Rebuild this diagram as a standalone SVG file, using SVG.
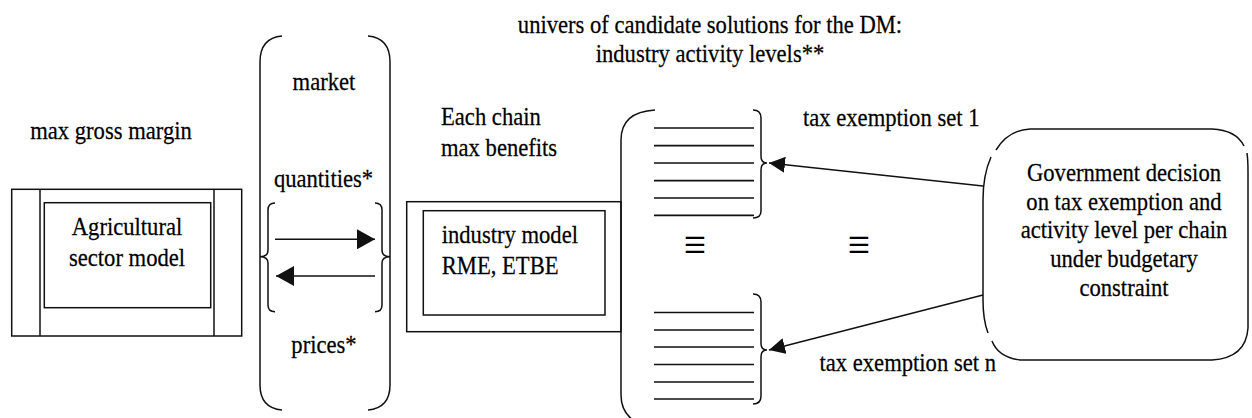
<svg xmlns="http://www.w3.org/2000/svg" width="1252" height="418" viewBox="0 0 1252 418">
  <style>
    text { font-family: "Liberation Serif", "Times New Roman", serif; font-size: 26px; fill: #000; stroke: #000; stroke-width: 0.25; }
    .mid { text-anchor: middle; }
    .ln { fill: none; stroke: #111; stroke-width: 1.5; }
    .bar { fill: none; stroke: #111; stroke-width: 1.7; }
    .eq { font-size: 36px; text-anchor: middle; stroke: none; }
  </style>
  <defs>
    <marker id="headL" markerUnits="userSpaceOnUse" markerWidth="18" markerHeight="20" refX="18" refY="10" orient="auto">
      <path d="M0,0 L18,10 L0,20 Z" fill="#111"/>
    </marker>
    <marker id="headS" markerUnits="userSpaceOnUse" markerWidth="16" markerHeight="16" refX="16" refY="8" orient="auto">
      <path d="M0,0 L16,8 L0,16 Z" fill="#111"/>
    </marker>
  </defs>
  <rect width="1252" height="418" fill="#fff"/>

  <!-- title above the candidate set -->
  <g id="title">
    <text class="mid" transform="matrix(.87 0 0 1 710 32.5)">univers of candidate solutions for the DM:</text>
    <text class="mid" transform="matrix(.87 0 0 1 710 61.5)">industry activity levels**</text>
  </g>

  <!-- agricultural sector model -->
  <g id="agri">
    <text class="mid" transform="matrix(.87 0 0 1 111 139)">max gross margin</text>
    <rect class="ln" x="11.7" y="189.3" width="230" height="146.7"/>
    <line class="ln" x1="40" y1="189.3" x2="40" y2="336"/>
    <line class="ln" x1="214" y1="189.3" x2="214" y2="336"/>
    <rect class="ln" x="44.3" y="202.7" width="166.4" height="105"/>
    <text class="mid" transform="matrix(.87 0 0 1 127 235)">Agricultural</text>
    <text class="mid" transform="matrix(.87 0 0 1 127 266)">sector model</text>
  </g>

  <!-- market exchange bracket -->
  <g id="market">
    <path class="ln" d="M282,36 Q260,38 260,62 V385 Q260,408 282,410"/>
    <path class="ln" d="M368,36 Q390,38 390,62 V385 Q390,408 368,410"/>
    <path class="ln" d="M275,203 Q268,203 268,210 V250 Q268,256.7 260,256.7 Q268,256.7 268,263 V305 Q268,311.7 275,311.7"/>
    <path class="ln" d="M375,203 Q382,203 382,210 V250 Q382,256.7 390,256.7 Q382,256.7 382,263 V305 Q382,311.7 375,311.7"/>
    <text class="mid" transform="matrix(.87 0 0 1 324 90)">market</text>
    <text class="mid" transform="matrix(.87 0 0 1 323.5 186.5)">quantities*</text>
    <text class="mid" transform="matrix(.87 0 0 1 324 353)">prices*</text>
  </g>

  <!-- industry model -->
  <g id="industry">
    <text transform="matrix(.87 0 0 1 441 125)">Each chain</text>
    <text transform="matrix(.87 0 0 1 441 156)">max benefits</text>
    <rect class="ln" x="406.7" y="201.7" width="214.3" height="130"/>
    <rect class="ln" x="423.3" y="210.7" width="181.7" height="104.3"/>
    <text transform="matrix(.87 0 0 1 441.7 242.7)">industry model</text>
    <text transform="matrix(.87 0 0 1 441.7 274)">RME, ETBE</text>
  </g>

  <!-- candidate solution sets -->
  <g id="candidates">
    <path class="ln" d="M655,110 Q621,112 621,140 V395 Q621,420 650,428"/>
    <g id="set1">
      <path class="bar" d="M654,128 H754 M654,145.6 H754 M654,163 H754 M654,180.6 H754 M654,198 H754 M654,215.4 H754"/>
      <path class="ln" d="M753,110 Q761,110 761,118 V156 Q761,163 767,163 Q761,163 761,170 V211 Q761,218 753,218"/>
      <text transform="matrix(.87 0 0 1 803 126)">tax exemption set 1</text>
    </g>
    <g id="setn">
      <path class="bar" d="M654,312.5 H754 M654,330 H754 M654,347 H754 M654,364.5 H754 M654,382 H754 M654,399 H754"/>
      <path class="ln" d="M753,294 Q761,294 761,302 V343 Q761,350 767,350 Q761,350 761,357 V396 Q761,404 753,404"/>
      <text transform="matrix(.87 0 0 1 819.5 370.5)">tax exemption set n</text>
    </g>
    <text class="eq" transform="matrix(1.1 0 0 1.35 695 261)">≡</text>
    <text class="eq" transform="matrix(1.1 0 0 1.35 859 261)">≡</text>
  </g>

  <!-- government decision -->
  <g id="government">
    <path class="ln" d="M996,150 Q1008,130 1030,129 H1212 Q1236,130 1244,146 M1247,153 Q1248,160 1248,172 V328 Q1246,358 1212,360 H1020 Q998,357 992,341 M988,333 Q983,320 983,300 V200 Q983,175 991,157"/>
    <text class="mid" transform="matrix(.87 0 0 1 1124 181)">Government decision</text>
    <text class="mid" transform="matrix(.87 0 0 1 1124 209.7)">on tax exemption and</text>
    <text class="mid" transform="matrix(.87 0 0 1 1124 238.4)">activity level per chain</text>
    <text class="mid" transform="matrix(.87 0 0 1 1124 267)">under budgetary</text>
    <text class="mid" transform="matrix(.87 0 0 1 1124 295.8)">constraint</text>
  </g>

  <!-- connectors -->
  <g id="connectors">
    <path class="ln" d="M275,239.3 H375" marker-end="url(#headL)"/>
    <path class="ln" d="M375,276 H276" marker-end="url(#headL)"/>
    <path class="ln" d="M983,186 L769,163" marker-end="url(#headS)"/>
    <path class="ln" d="M983,295 L769,350" marker-end="url(#headS)"/>
  </g>
</svg>
